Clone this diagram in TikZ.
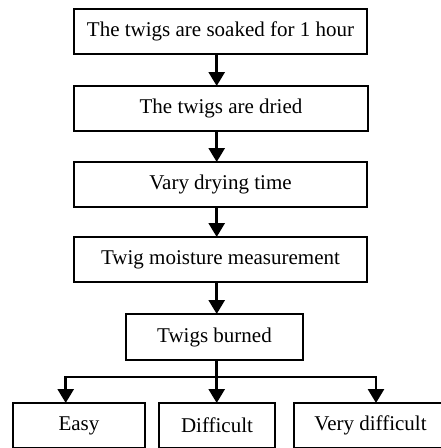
\documentclass[tikz,border=0pt]{standalone}
\usepackage{fontspec}
\setmainfont{Liberation Serif}
\usetikzlibrary{arrows.meta}
\begin{document}
\begin{tikzpicture}[x=1pt,y=1pt,
  box/.style={draw, line width=2.6pt, inner sep=0pt, outer sep=0pt,
    minimum height=45pt, font=\fontsize{21}{25}\selectfont},
  arr/.style={line width=2.6pt, -{Triangle[width=16pt,length=14pt]}}]
\path[use as bounding box] (0,-448) rectangle (441,0);
\clip (0,-448) rectangle (441,0);
\node[box, minimum width=293pt] (b1) at (220.5,-31.5) {The twigs are soaked for 1 hour};
\node[box, minimum width=294pt] (b2) at (221,-108.5) {The twigs are dried};
\node[box, minimum width=293pt] (b3) at (220.5,-184.5) {Vary drying time};
\node[box, minimum width=293pt] (b4) at (220.5,-259.5) {Twig moisture measurement};
\node[box, minimum width=177pt, minimum height=46pt] (b5) at (214.5,-337) {Twigs burned};
\node[box, minimum width=132pt] (easy) at (79,-425.5) {Easy};
\node[box, minimum width=116pt] (dif) at (217,-425.5) {Difficult};
\node[box, minimum width=153pt] (vdif) at (370.5,-425.5) {Very difficult};
\coordinate (tx) at (216.7,0);
\coordinate (lx) at (65.7,0);
\coordinate (rx) at (376,0);
\coordinate (j) at (216.7,-377);
\draw[arr] (b1.south -| tx) -- (b2.north -| tx);
\draw[arr] (b2.south -| tx) -- (b3.north -| tx);
\draw[arr] (b3.south -| tx) -- (b4.north -| tx);
\draw[arr] (b4.south -| tx) -- (b5.north -| tx);
\draw[arr] (b5.south -| tx) -- (dif.north -| tx);
\draw[arr] (j) -| (easy.north -| lx);
\draw[arr] (j) -| (vdif.north -| rx);
\end{tikzpicture}
\end{document}
